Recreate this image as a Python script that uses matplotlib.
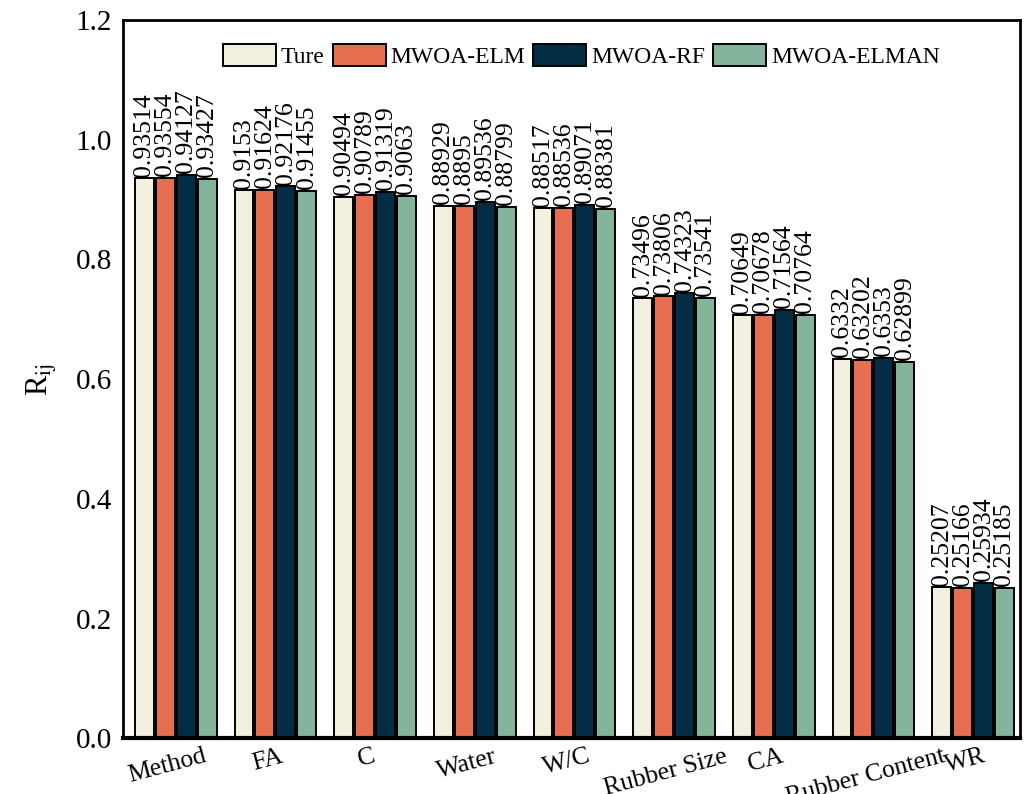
import numpy as np
import matplotlib.pyplot as plt

plt.rcParams['font.family'] = ['Liberation Serif', 'DejaVu Serif']
plt.rcParams['mathtext.fontset'] = 'stix'

factors = ['Method', 'FA', 'C', 'Water', 'W/C', 'Rubber Size', 'CA',
           'Rubber Content', 'WR']
series_names = ['Ture', 'MWOA-ELM', 'MWOA-RF', 'MWOA-ELMAN']

ture = [0.93514, 0.9153, 0.90494, 0.88929, 0.88517, 0.73496, 0.70649, 0.6332, 0.25207]
mwoa_elm = [0.93554, 0.91624, 0.90789, 0.8895, 0.88536, 0.73806, 0.70678, 0.63202, 0.25166]
mwoa_rf = [0.94127, 0.92176, 0.91319, 0.89536, 0.89071, 0.74323, 0.71564, 0.6353, 0.25934]
mwoa_elman = [0.93427, 0.91455, 0.9063, 0.88799, 0.88381, 0.73541, 0.70764, 0.62899, 0.25185]

colors = ['#F3F0DF', '#E66F51', '#042D45', '#84B59C']

fig = plt.figure(figsize=(10.24, 7.94), dpi=100)
ax = fig.add_axes([0.12, 0.07, 0.876, 0.905])

x = np.arange(len(factors))
width = 0.19
pitch = 0.21
all_series = [ture, mwoa_elm, mwoa_rf, mwoa_elman]

for i, (vals, name, c) in enumerate(zip(all_series, series_names, colors)):
    pos = x + (i - 1.5) * pitch
    bars = ax.bar(pos, vals, width, color=c, edgecolor='black',
                  linewidth=1.4, label=name)
    for b, v in zip(bars, vals):
        ax.text(b.get_x() + b.get_width() / 2, v + 0.003, f'{v:g}',
                rotation=90, ha='center', va='bottom', fontsize=18.5)

ax.set_xlim(-0.53, 8.47)
ax.set_ylim(0, 1.2)
ax.set_yticks(np.arange(0, 1.21, 0.2))
ax.set_yticklabels([f'{t:.1f}' for t in np.arange(0, 1.21, 0.2)], fontsize=21)
ax.set_xticks(x - 0.08)
ax.set_xticklabels(factors, rotation=15, fontsize=18.5, ha='center')
ax.tick_params(axis='y', length=0, pad=8)
ax.tick_params(axis='x', length=0, pad=5)
ax.set_ylabel(r'R$_{\mathrm{ij}}$', fontsize=22, labelpad=12)

for s in ax.spines.values():
    s.set_linewidth(2)
ax.spines['bottom'].set_linewidth(3)

ax.legend(loc='center', bbox_to_anchor=(0.511, 0.95), ncol=4,
          frameon=False, fontsize=17, handlelength=2.25, handleheight=1.05,
          handletextpad=0.2, columnspacing=0.34)

fig.savefig('out.png', dpi=100)
